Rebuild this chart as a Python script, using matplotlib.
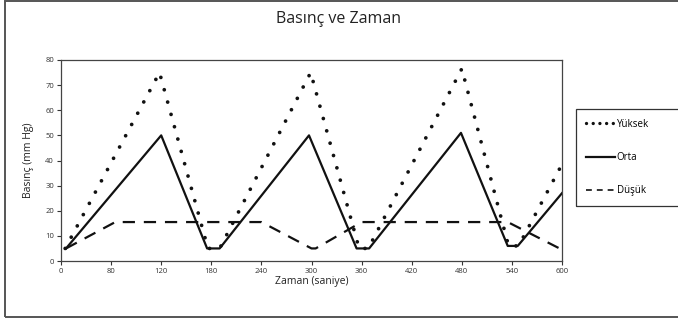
import matplotlib.pyplot as plt
from matplotlib.lines import Line2D
from matplotlib.patches import Rectangle

plt.rcParams['font.family'] = ['Open Sans', 'DejaVu Sans']

# zaman (s) ve basınç (mm Hg) değerleri
t_yuksek = [5, 118, 176, 190, 299, 357, 368, 480, 536, 548, 600]
p_yuksek = [5, 75, 5, 5, 75, 5, 5, 76.5, 6, 6, 38.5]

t_orta = [6, 120, 175, 190, 297, 354, 369, 479, 535, 547, 600]
p_orta = [5, 50, 5, 5, 50, 5, 5, 51, 6, 6, 27]

t_dusuk = [6, 65, 240, 300, 305, 360, 535, 600]
p_dusuk = [5, 15.5, 15.5, 5, 5, 15.5, 15.5, 4.5]

x_ticks = [0, 60, 120, 180, 240, 300, 360, 420, 480, 540, 600]
x_labels = ['0', '80', '120', '180', '240', '300', '360', '420', '480', '540', '600']
y_ticks = [0, 10, 20, 30, 40, 50, 60, 70, 80]

fig = plt.figure(figsize=(6.78, 3.2), dpi=100)
ax = fig.add_axes([61 / 678, 59 / 320, 501 / 678, 201 / 320])

dotted = (0, (0.01, 3.4))
ax.plot(t_yuksek, p_yuksek, color='#111111', lw=2.7,
        linestyle=dotted, dash_capstyle='round')
ax.plot(t_orta, p_orta, color='#111111', lw=1.6)
ax.plot(t_dusuk, p_dusuk, color='#111111', lw=1.6, linestyle=(0, (5.5, 4)))

ax.set_xlim(0, 600)
ax.set_ylim(0, 80)
ax.set_xticks(x_ticks)
ax.set_xticklabels(x_labels)
ax.set_yticks(y_ticks)
ax.tick_params(labelsize=5.5, length=3, width=0.8, colors='#333333', pad=2)
for s in ax.spines.values():
    s.set_color('#444444')
    s.set_linewidth(0.9)

ax.set_xlabel('Zaman (saniye)', fontsize=7.5, labelpad=1, color='#222222')
ax.set_ylabel('Basınç (mm Hg)', fontsize=7.5, labelpad=8, color='#222222')
fig.text(0.5, 0.94, 'Basınç ve Zaman', ha='center', va='center',
         fontsize=11.5, color='#222222')

# lejant için ayrı çizgi örnekleri
handles = [
    Line2D([], [], color='#111111', lw=2.4, linestyle=(0, (0.01, 2.0)),
           dash_capstyle='round'),
    Line2D([], [], color='#111111', lw=1.6),
    Line2D([], [], color='#111111', lw=1.2, linestyle=(0, (3.5, 3))),
]
leg = fig.legend(handles, ['Yüksek', 'Orta', 'Düşük'],
                 loc='upper left', bbox_to_anchor=(576 / 678, 211 / 320),
                 fontsize=7, frameon=False,
                 handlelength=3.0, handletextpad=0.2, labelspacing=2.3,
                 borderpad=1.0, borderaxespad=0)

# lejant kutusu sağa doğru taşıyor
fig.patches.append(Rectangle((576 / 678, 114 / 320), 110 / 678, 97 / 320,
                             transform=fig.transFigure, fill=False,
                             edgecolor='#333333', lw=0.9))

# dış çerçeve
fig.patches.append(Rectangle((4.5 / 678, 3 / 320), 1.0, 316 / 320,
                             transform=fig.transFigure, fill=False,
                             edgecolor='#555555', lw=1.4))

fig.savefig('out.png', dpi=100)
